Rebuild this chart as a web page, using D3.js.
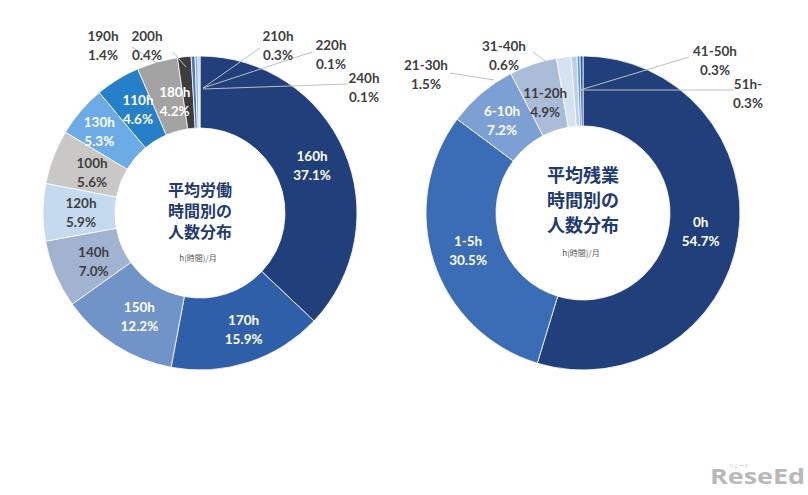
<!DOCTYPE html>
<html>
<head>
<meta charset="utf-8">
<script src="https://cdn.jsdelivr.net/npm/d3@7"></script>
<style>
  html, body { margin: 0; padding: 0; background: #fff; }
  svg { display: block; }
</style>
</head>
<body>
<svg id="chart" width="808" height="495"></svg>
<script>
// ---------- data ----------
const leftCategories = ["160h","170h","150h","140h","120h","100h","130h","110h","180h","190h","200h","210h","220h","240h"];
const leftValues = [37.1, 15.9, 12.2, 7.0, 5.9, 5.6, 5.3, 4.6, 4.2, 1.4, 0.4, 0.3, 0.1, 0.1];
const leftTitle = ["平均労働", "時間別の", "人数分布"];

const rightCategories = ["0h","1-5h","6-10h","11-20h","21-30h","31-40h","41-50h","51h-"];
const rightValues = [54.7, 30.5, 7.2, 4.9, 1.5, 0.6, 0.3, 0.3];
const rightTitle = ["平均残業", "時間別の", "人数分布"];

const unitNote = "h(時間)/月";

// ---------- styles ----------
const leftColors = ["#213f7b","#2f5fa9","#7093c8","#a1b3d1","#c6daef","#c9c8c6","#6cabe6","#2580c9","#a3a3a3","#3d3d3d","#4a78be","#8fb0e0","#1f3a70","#5b8fd0"];
const rightColors = ["#213f7b","#3a6db5","#7c9fd4","#aabcd8","#d5e2f2","#bcd0ea","#5b8fd0","#2f5fa9"];

// label layout: inside (white/dark) or outside with text pos + leader line
const leftLabelStyle = {
  "160h": {fill: "#fff"}, "170h": {fill: "#fff", dx: 6}, "150h": {fill: "#fff", dx: 5},
  "140h": {fill: "#3f3f3f", dx: 6}, "120h": {fill: "#3f3f3f", dx: 3}, "100h": {fill: "#3f3f3f", dx: 6, dy: 3},
  "130h": {fill: "#fff", dx: -8, dy: -3}, "110h": {fill: "#fff", dx: 2}, "180h": {fill: "#fff", dx: 8, dy: 5},
  "190h": {out: [103, 45], line: [[132, 47], [157, 63]]},
  "200h": {out: [147, 45], line: [[173, 52], [186, 67]]},
  "210h": {out: [278, 45], line: [[260, 48], [203, 88]]},
  "220h": {out: [331, 54], line: [[312, 52], [203, 88]]},
  "240h": {out: [364, 87], line: [[348, 84], [203, 89]]}
};
const rightLabelStyle = {
  "0h": {fill: "#fff", dx: -3}, "1-5h": {fill: "#fff", dx: 1, dy: -1}, "6-10h": {fill: "#fff", dx: -2},
  "11-20h": {fill: "#3f3f3f", dx: 1, dy: 5},
  "21-30h": {out: [426, 74], line: [[450, 73], [494, 80]]},
  "31-40h": {out: [504, 55], line: [[533, 52], [548, 63]]},
  "41-50h": {out: [715, 60], line: [[689, 57], [580, 90]]},
  "51h-":   {out: [748, 93], line: [[733, 90], [580, 90]]}
};

const svg = d3.select("#chart");
const labelFont = "Lato, 'Open Sans', 'DejaVu Sans', sans-serif";
const cjkFont = "'Noto Sans CJK JP', 'Noto Sans CJK SC', sans-serif";

function drawDonut(cfg) {
  const {cx, cy, rOut, rIn, cats, vals, colors, styles, title, titleSize, titleY, titleGap, noteY} = cfg;
  const g = svg.append("g").attr("transform", `translate(${cx},${cy})`);
  const pie = d3.pie().sort(null).value(d => d.v);
  const data = pie(cats.map((c, i) => ({c, v: vals[i], color: colors[i]})));
  const arc = d3.arc().innerRadius(rIn).outerRadius(rOut);
  g.selectAll("path.slice").data(data).join("path")
    .attr("class", "slice")
    .attr("d", arc)
    .attr("fill", d => d.data.color)
    .attr("stroke", "#ffffff")
    .attr("stroke-width", 0.8);

  const labelArc = d3.arc().innerRadius(122).outerRadius(122);
  const lines = svg.append("g");
  const labels = svg.append("g")
    .attr("font-family", labelFont).attr("font-weight", 700).attr("font-size", 13.5)
    .attr("text-anchor", "middle");

  data.forEach(d => {
    const st = styles[d.data.c] || {};
    let x, y, fill;
    if (st.out) {
      [x, y] = st.out;
      fill = "#404040";
      lines.append("line")
        .attr("x1", st.line[0][0]).attr("y1", st.line[0][1])
        .attr("x2", st.line[1][0]).attr("y2", st.line[1][1])
        .attr("stroke", "#bfbfbf").attr("stroke-width", 1);
    } else {
      const c = labelArc.centroid(d);
      x = cx + c[0] + (st.dx || 0);
      y = cy + c[1] + (st.dy || 0);
      fill = st.fill;
    }
    const t = labels.append("text").attr("fill", fill);
    t.append("tspan").attr("x", x).attr("y", y - 4).text(d.data.c);
    t.append("tspan").attr("x", x).attr("y", y + 15).text(d.data.v.toFixed(1) + "%");
  });

  const tt = svg.append("text").attr("font-family", cjkFont).attr("font-weight", 700)
    .attr("fill", "#1f3b6f").attr("text-anchor", "middle").attr("font-size", titleSize);
  title.forEach((s, i) => {
    tt.append("tspan").attr("x", cx).attr("y", titleY + i * titleGap + titleSize * 0.36).text(s);
  });
  svg.append("text").attr("x", cx - 2).attr("y", noteY).attr("text-anchor", "middle")
    .attr("dominant-baseline", "central")
    .attr("font-family", cjkFont).attr("font-size", 8).attr("fill", "#555").text(unitNote);
}

drawDonut({cx: 200, cy: 213, rOut: 157, rIn: 85, cats: leftCategories, vals: leftValues,
  colors: leftColors, styles: leftLabelStyle, title: leftTitle, titleSize: 16, titleY: 190, titleGap: 21, noteY: 257});
drawDonut({cx: 583, cy: 213, rOut: 157, rIn: 87, cats: rightCategories, vals: rightValues,
  colors: rightColors, styles: rightLabelStyle, title: rightTitle, titleSize: 18, titleY: 176, titleGap: 25, noteY: 252});

// watermark
svg.append("text").attr("x", 710).attr("y", 484)
  .attr("font-family", "'Open Sans', Lato, sans-serif").attr("font-weight", 700)
  .attr("font-size", 22).attr("fill", "#b9b9b9")
  .attr("textLength", 95).attr("lengthAdjust", "spacingAndGlyphs").text("ReseEd");
svg.append("text").attr("x", 739).attr("y", 467).attr("text-anchor", "middle")
  .attr("font-family", cjkFont).attr("font-size", 5).attr("fill", "#b9b9b9").text("リシード");
</script>
</body>
</html>
